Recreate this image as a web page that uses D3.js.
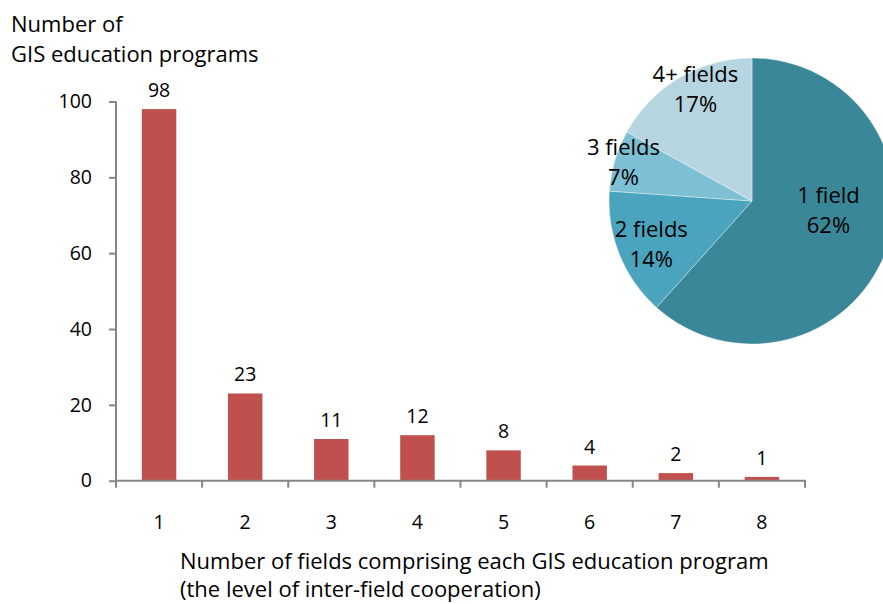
<!DOCTYPE html>
<html><head><meta charset="utf-8">
<script src="https://cdn.jsdelivr.net/npm/d3@7"></script>
<style>
body{margin:0;background:#fff;}
text{font-family:"Open Sans",Lato,sans-serif;fill:#000;font-variant-ligatures:none;}
</style></head>
<body><svg id="c" width="883" height="604"></svg>
<script>
const categories = [1,2,3,4,5,6,7,8];
const programs = [98,23,11,12,8,4,2,1];
const yTicks = [0,20,40,60,80,100];
const pieLabels = ["1 field","2 fields","3 fields","4+ fields"];
const pieValues = [98,23,11,27];
const pieColors = ["#3A8799","#4AA4BD","#7DBFD3","#B7D5E0"];

const svg = d3.select("#c");
const nfs = 19.5, tfs = 22;
const x = d3.scaleBand().domain(categories).range([116,805]).paddingInner(0.6).paddingOuter(0.3);
const y = d3.scaleLinear().domain([0,100]).range([480.7,101.5]);
const axisColor = "#868686";

// bars
svg.selectAll("rect.bar").data(programs).join("rect")
  .attr("x",(d,i)=>x(categories[i])).attr("width",x.bandwidth())
  .attr("y",d=>y(d)).attr("height",d=>y(0)-y(d)).attr("fill","#C0504D");
svg.selectAll("text.val").data(programs).join("text")
  .attr("x",(d,i)=>x(categories[i])+x.bandwidth()/2).attr("y",d=>y(d)-12)
  .attr("text-anchor","middle").attr("font-size",nfs).text(d=>d);

// y axis
const ya = svg.append("g").attr("transform","translate(116,0)")
  .call(d3.axisLeft(y).tickValues(yTicks).tickSize(7).tickPadding(17));
ya.selectAll("line").attr("stroke",axisColor).attr("stroke-width",2);
ya.select(".domain").remove();
ya.append("line").attr("x1",0).attr("x2",0).attr("y1",y(100)).attr("y2",y(0)).attr("stroke",axisColor).attr("stroke-width",2);
ya.selectAll("text").attr("font-size",nfs).attr("font-family","Open Sans").attr("fill","#000");

// x axis
const xa = svg.append("g").attr("transform",`translate(0,${y(0)})`);
xa.append("line").attr("x1",115).attr("x2",806).attr("stroke",axisColor).attr("stroke-width",2);
const step = x.step();
const bounds = d3.range(categories.length+1).map(i=>116+i*step);
xa.selectAll("line.t").data(bounds).join("line").attr("x1",d=>d).attr("x2",d=>d).attr("y1",0).attr("y2",7)
  .attr("stroke",axisColor).attr("stroke-width",2);
xa.selectAll("text").data(categories).join("text")
  .attr("x",d=>x(d)+x.bandwidth()/2).attr("y",48).attr("text-anchor","middle").attr("font-size",nfs).text(d=>d);

// titles
svg.append("text").attr("x",11).attr("y",32).attr("font-size",tfs).text("Number of");
svg.append("text").attr("x",11).attr("y",62).attr("font-size",tfs).text("GIS education programs");
svg.append("text").attr("x",180).attr("y",569).attr("font-size",tfs).text("Number of fields comprising each GIS education program");
svg.append("text").attr("x",180).attr("y",597).attr("font-size",tfs).text("(the level of inter-field cooperation)");

// pie
const R = 143;
const pg = svg.append("g").attr("transform","translate(752,201)");
const pie = d3.pie().sort(null).value(d=>d);
const arcs = pie(pieValues);
const arc = d3.arc().innerRadius(0).outerRadius(R);
pg.selectAll("path").data(arcs).join("path").attr("d",arc)
  .attr("fill",(d,i)=>pieColors[i]).attr("stroke","#fff").attr("stroke-opacity",0.6).attr("stroke-width",0.6);
const total = d3.sum(pieValues);
const labelR = [0.55,0.76,0.93,0.86];
const labelNudge = [[3,-19],[0,2],[-1,-1],[6,-6]];
pg.selectAll("g.lbl").data(arcs).join("g").attr("class","lbl")
  .attr("transform",(d,i)=>{const a=(d.startAngle+d.endAngle)/2, r=R*labelR[i];
     return `translate(${Math.sin(a)*r+labelNudge[i][0]},${-Math.cos(a)*r+labelNudge[i][1]})`;})
  .each(function(d,i){
    const g=d3.select(this);
    g.append("text").attr("text-anchor","middle").attr("y",-7).attr("font-size",tfs).text(pieLabels[i]);
    g.append("text").attr("text-anchor","middle").attr("y",23).attr("font-size",tfs).text(Math.round(d.value/total*100)+"%");
  });
</script></body></html>
